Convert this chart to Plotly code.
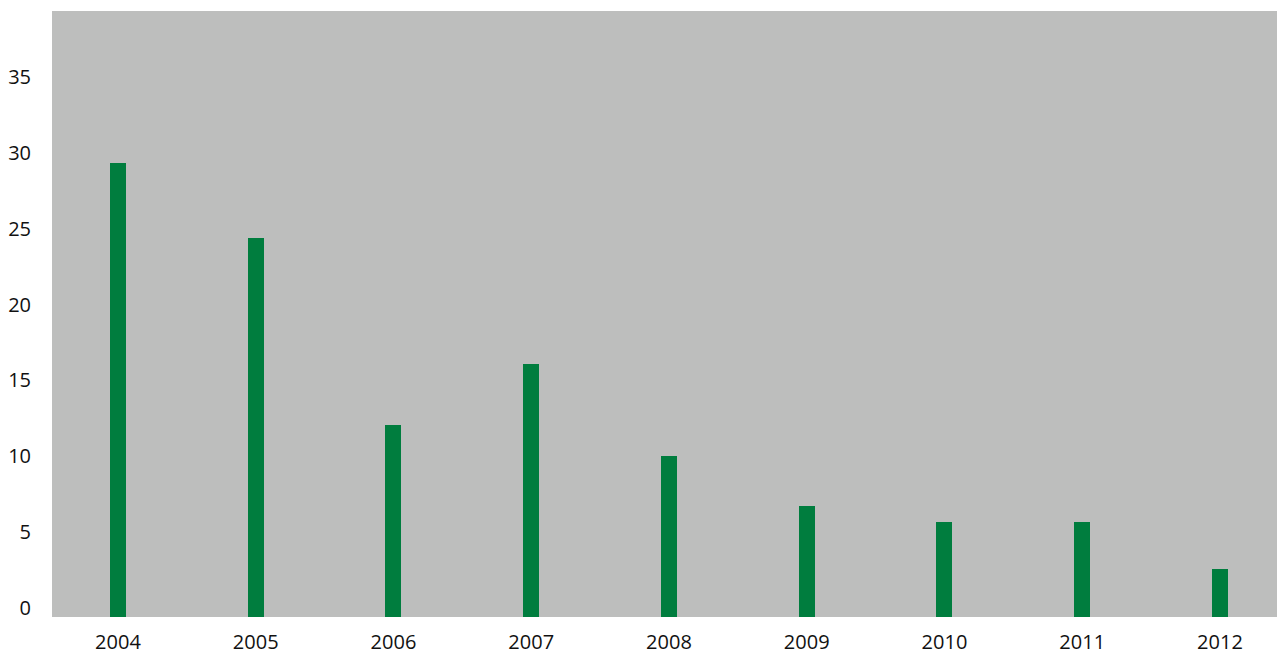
import plotly.graph_objects as go

years = ["2004", "2005", "2006", "2007", "2008", "2009", "2010", "2011", "2012"]
values = [30, 25, 12.7, 16.7, 10.6, 7.3, 6.3, 6.3, 3.2]
y_ticks = [0, 5, 10, 15, 20, 25, 30, 35]

font = dict(family="Open Sans, DejaVu Sans, sans-serif", size=20, color="#111111")

fig = go.Figure()
fig.add_trace(
    go.Bar(
        x=years,
        y=values,
        width=0.116,
        marker=dict(color="#007d3e", line=dict(width=0)),
        hoverinfo="x+y",
    )
)
# invisible helper trace carrying the label axis
fig.add_trace(
    go.Scatter(x=years[:1], y=[None], yaxis="y2", mode="markers",
               marker=dict(opacity=0), hoverinfo="skip", showlegend=False)
)

fig.update_layout(
    width=1277,
    height=655,
    margin=dict(l=52, r=0, t=11, b=38),
    paper_bgcolor="white",
    plot_bgcolor="#bdbebd",
    showlegend=False,
    bargap=0,
    font=font,
    xaxis=dict(
        type="category",
        range=[-0.479, 8.414],
        showgrid=False,
        zeroline=False,
        showline=False,
        ticks="",
        ticklabelstandoff=11,
        tickfont=font,
        automargin=False,
    ),
    yaxis=dict(
        range=[0, 40],
        showgrid=False,
        zeroline=False,
        showline=False,
        showticklabels=False,
        ticks="",
        automargin=False,
    ),
    yaxis2=dict(
        overlaying="y",
        side="left",
        range=[-0.62, 39.38],
        tickvals=y_ticks,
        ticktext=[str(v) for v in y_ticks],
        showgrid=False,
        zeroline=False,
        showline=False,
        ticks="",
        ticklabelstandoff=20,
        tickfont=font,
        automargin=False,
    ),
)

post = (
    "document.documentElement.style.margin='0';"
    "document.body.style.margin='0';"
    "document.body.style.overflow='hidden';"
    "var gd=document.getElementById('{plot_id}');"
    "gd.style.width='1277px';gd.style.height='655px';"
    "Plotly.relayout(gd,{width:1277,height:655});"
)

fig.write_html("out.html", post_script=post, config={"displayModeBar": False})
